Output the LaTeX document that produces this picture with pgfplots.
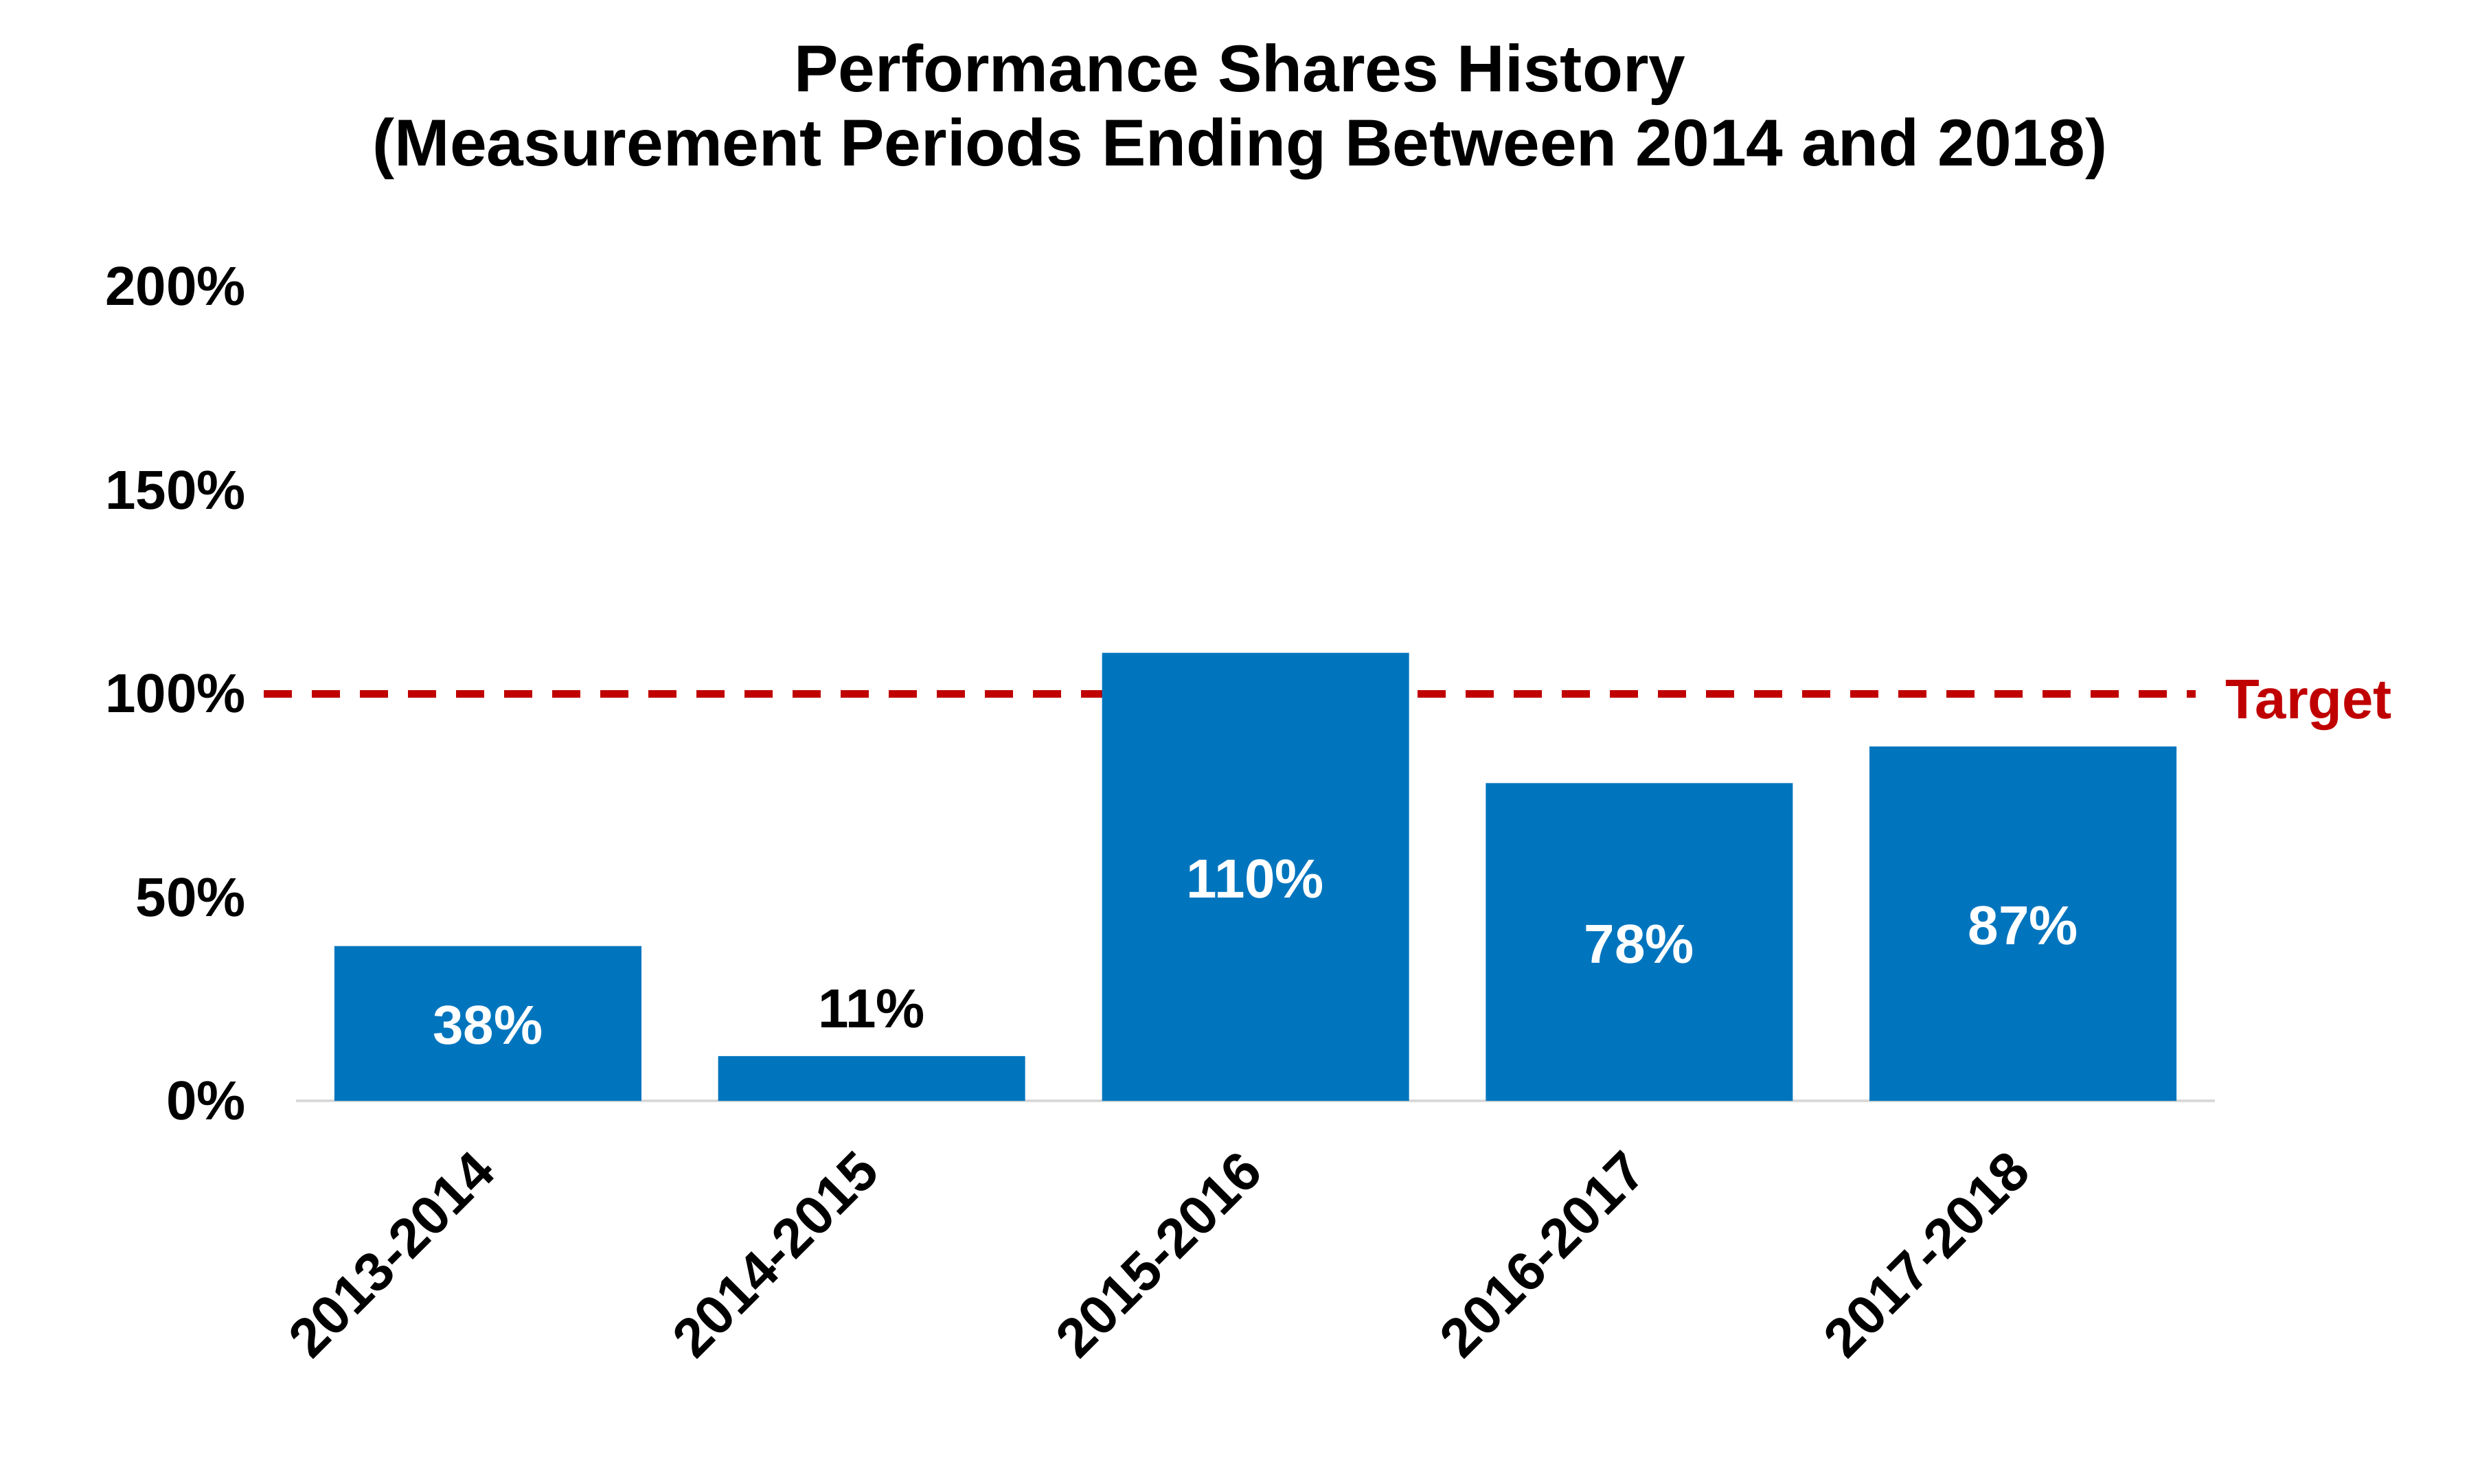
\documentclass[border=0pt]{standalone}
\usepackage{pgfplots}
\pgfplotsset{compat=1.18}
\usepackage{pgfplotstable}
\usepackage{fontspec}
\setmainfont{Liberation Sans}

\definecolor{barblue}{RGB}{0,117,190}
\definecolor{targetred}{RGB}{192,0,0}
\definecolor{axisgray}{RGB}{217,217,217}

% share of target paid out, per measurement period
\pgfplotstableread{
x v
0 38
1 11
2 110
3 78
4 87
}\shares

\begin{document}
\begin{tikzpicture}
\useasboundingbox (0,0) rectangle (722.2pt,432pt);
\node[anchor=base, inner sep=0pt, font=\fontsize{19.3}{23}\selectfont\bfseries] at (361.1pt,405.2pt) {Performance Shares History};
\node[anchor=base, inner sep=0pt, font=\fontsize{19.3}{23}\selectfont\bfseries] at (361.1pt,383.6pt) {(Measurement Periods Ending Between 2014 and 2018)};
\begin{axis}[
    at={(86.2pt,111.4pt)}, anchor=south west,
    scale only axis,
    width=558.8pt, height=237.2pt,
    xmin=-0.5, xmax=4.5,
    ymin=0, ymax=200,
    clip=false,
    axis x line*=bottom, axis y line*=left,
    y axis line style={draw=none},
    x axis line style={draw=axisgray, line width=0.8pt},
    major tick length=0pt,
    xtick={0,1,2,3,4},
    xticklabels={2013-2014,2014-2015,2015-2016,2016-2017,2017-2018},
    ytick={0,50,100,150,200},
    yticklabel={\pgfmathprintnumber{\tick}\%},
    /pgf/number format/assume math mode=true,
    tick label style={font=\fontsize{16}{19}\selectfont\bfseries},
    yticklabel style={anchor=east, inner sep=0pt, xshift=-14.4pt},
    xticklabel style={xshift=-5pt, yshift=-13.4pt, rotate=45, anchor=north east, inner sep=0pt},
]
% target line
\addplot[targetred, line width=2.2pt, dash pattern=on 8.2pt off 5.8pt] coordinates {(-0.584,100) (4.45,100)};
% bars
\addplot[ybar, bar width=0.8, fill=barblue, draw=none] table[x=x, y=v] {\shares};
% labels inside the bars
\addplot[draw=none, mark=none, skip coords between index={1}{2},
    point meta=explicit,
    nodes near coords={\pgfmathprintnumber{\pgfplotspointmeta}\%},
    every node near coord/.append style={anchor=center, text=white, inner sep=0pt, yshift=-0.6pt, font=\fontsize{16}{19}\selectfont\bfseries}]
    table[x=x, y expr=\thisrow{v}/2, meta=v] {\shares};
% label above the small bar
\addplot[draw=none, mark=none, restrict x to domain=0.5:1.5,
    point meta=explicit,
    nodes near coords={\pgfmathprintnumber{\pgfplotspointmeta}\%},
    every node near coord/.append style={anchor=south, text=black, inner sep=0pt, yshift=8pt, font=\fontsize{16}{19}\selectfont\bfseries}]
    table[x=x, y=v, meta=v] {\shares};
\node[anchor=base west, inner sep=0pt, xshift=2.8pt, yshift=-7.2pt, text=targetred, font=\fontsize{16.3}{19}\selectfont\bfseries] at (axis cs:4.5,100) {Target};
\end{axis}
\end{tikzpicture}
\end{document}
